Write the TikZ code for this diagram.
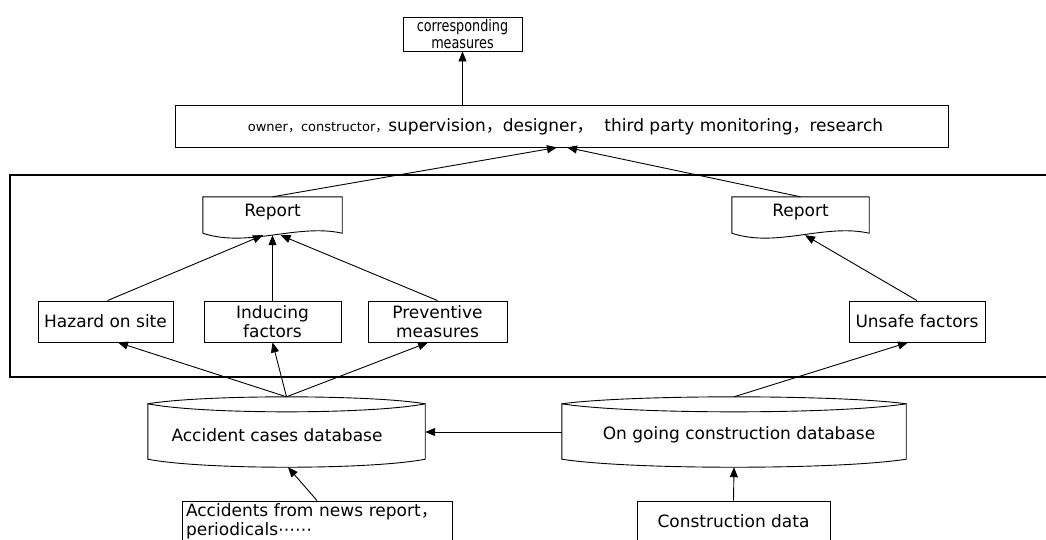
\documentclass[tikz,border=0pt]{standalone}
\usepackage{fontspec}
\setmainfont{DejaVu Sans}
\newfontfamily\cjk{Noto Sans CJK SC}
\newfontfamily\cond[FakeStretch=0.8]{DejaVu Sans}
\usetikzlibrary{arrows.meta,calc}
\newcommand\fc{{\cjk ，}}
\newcommand\dbdraw[1]{%
  \coordinate (tl) at ($(#1.north west)+(0,7)$);
  \coordinate (tr) at ($(#1.north east)+(0,7)$);
  \coordinate (bl) at ($(#1.south west)+(0,-8)$);
  \coordinate (br) at ($(#1.south east)+(0,-8)$);
  \draw[line] (tl) .. controls ($(tl)!0.2!(tr)+(0,-9.3)$) and ($(tl)!0.8!(tr)+(0,-9.3)$) .. (tr);
  \draw[line] (tl) .. controls ($(tl)!0.2!(tr)+(0,10.7)$) and ($(tl)!0.8!(tr)+(0,10.7)$) .. (tr)
    -- (br) .. controls ($(bl)!0.8!(br)+(0,10.7)$) and ($(bl)!0.2!(br)+(0,10.7)$) .. (bl) -- cycle;
}
\newcommand\repdraw[1]{%
  \draw[line] (#1.south west) -- (#1.north west) -- (#1.north east) -- (#1.south east)
    .. controls ($(#1.south east)+(-45,-10)$) and ($(#1.south west)+(45,15)$) .. (#1.south west);
}
\begin{document}
\begin{tikzpicture}[x=1pt,y=-1pt,
  line/.style={line width=0.9pt},
  arr/.style={line width=0.9pt,-{Triangle[length=10pt,width=8pt]}},
  box/.style={draw,line width=0.9pt,rectangle,inner sep=0pt,align=center,
    font=\fontsize{17}{19}\selectfont},
  plain/.style={draw=none,rectangle,inner sep=0pt,align=center,
    font=\fontsize{17}{19}\selectfont}]
\useasboundingbox (0,0) rectangle (1046,539);
\clip (0,0) rectangle (1046,539);
\fill[white] (0,0) rectangle (1046,539);

% frame
\draw[line width=1.6pt] (10,175) rectangle (1060,377);

% nodes
\node[box,minimum width=119pt,minimum height=34pt,font=\cond\fontsize{16}{17}\selectfont] (top) at (462.5,34) {corresponding\\measures};
\node[box,minimum width=773pt,minimum height=42pt] (mid) at (561.5,126) {};
\node[plain,font=\fontsize{17}{19}\selectfont] (midtext) at (565.5,127) {{\fontsize{13}{14}\selectfont owner\fc constructor\fc}supervision\fc designer\fc\ \ third party monitoring\fc research};

\node[plain,minimum width=139pt,minimum height=36pt] (rep1) at (272.5,215) {};
\node[plain] (rep1t) at (272.5,212) {Report};
\node[plain,minimum width=137pt,minimum height=36pt] (rep2) at (800.5,215) {};
\node[plain] (rep2t) at (800.5,212) {Report};
\repdraw{rep1}
\repdraw{rep2}

\node[box,minimum width=135pt,minimum height=41pt] (haz) at (105.5,321.5) {Hazard on site};
\node[box,minimum width=137pt,minimum height=41pt] (ind) at (272.5,321.5) {Inducing\\factors};
\node[box,minimum width=139pt,minimum height=41pt] (prev) at (437.5,321.5) {Preventive\\measures};
\node[box,minimum width=136pt,minimum height=41pt] (uns) at (917,321.5) {Unsafe factors};

\node[plain,minimum width=277pt,minimum height=70pt] (acc) at (286.5,432) {};
\node[plain] (acct) at (277,435) {Accident cases database};
\node[plain,minimum width=344pt,minimum height=70pt] (ong) at (734,432) {};
\node[plain] (ongt) at (739,435) {On going construction database};
\dbdraw{acc}
\dbdraw{ong}

\node[box,minimum width=193pt,minimum height=41pt] (cdata) at (733.5,521.5) {Construction data};
\node[box,minimum width=270pt,minimum height=41pt,align=left,text width=262pt] (news) at (317,521.5) {Accidents from news report\fc\\periodicals⋯⋯};

% connectors
\draw[arr] (mid.north -| top.south) -- (top.south);
\draw[arr] (rep1.north) -- ($(mid.south)+(-4.5,0)$);
\draw[arr] (rep2.north) -- ($(mid.south)+(5.5,0)$);

\draw[arr] ($(haz.north)+(2,0)$) -- ($(rep1.south)+(-9.5,2)$);
\draw[arr] (ind.north) -- ($(rep1.south)+(0,2)$);
\draw[arr] (prev.north) -- ($(rep1.south)+(8,2)$);
\draw[arr] (uns.north) -- ($(rep2.south)+(4.5,2)$);

\draw[arr] (acc.north) -- ($(haz.south)+(12.5,0)$);
\draw[arr] (acc.north) -- (ind.south);
\draw[arr] (acc.north) -- ($(prev.south)+(-9.5,0)$);
\draw[arr] (ong.north) -- ($(uns.south)+(-9,0)$);
\draw[arr] (ong.west) -- (acc.east);
\draw[arr] (cdata.north) -- (ong.south);
\draw[arr] (news.north) -- ($(acc.south)+(1.5,0)$);
\end{tikzpicture}
\end{document}
